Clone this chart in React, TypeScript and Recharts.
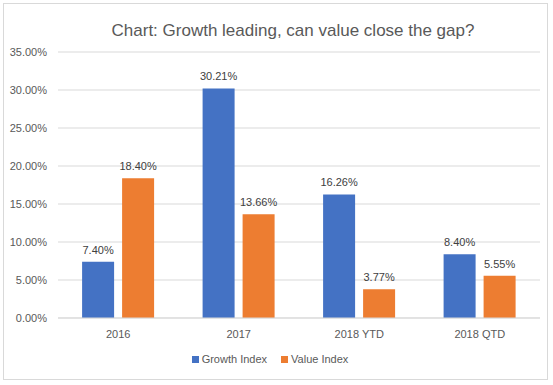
import { BarChart, Bar, XAxis, YAxis, CartesianGrid, Legend, LabelList } from "recharts";

const categories = ["2016", "2017", "2018 YTD", "2018 QTD"];
const growthIndex = [0.074, 0.3021, 0.1626, 0.084];
const valueIndex = [0.184, 0.1366, 0.0377, 0.0555];
const yTicks = [0, 0.05, 0.1, 0.15, 0.2, 0.25, 0.3, 0.35];

const BLUE = "#4472C4";
const ORANGE = "#ED7D31";
const FONT = "'Liberation Sans', Arial, sans-serif";

const data = categories.map((name, i) => ({
  name,
  growth: growthIndex[i],
  value: valueIndex[i],
}));

const pct = (v: number) => `${(v * 100).toFixed(2)}%`;

function LegendContent() {
  const items = [
    { label: "Growth Index", color: BLUE },
    { label: "Value Index", color: ORANGE },
  ];
  return (
    <div
      style={{
        height: 37,
        boxSizing: "border-box",
        paddingTop: 4,
        display: "flex",
        justifyContent: "center",
        gap: 14,
        fontFamily: FONT,
        fontSize: 11,
        color: "#595959",
      }}
    >
      {items.map((it) => (
        <div key={it.label} style={{ display: "flex", alignItems: "center", gap: 3, height: 14 }}>
          <span style={{ width: 7, height: 7, background: it.color, display: "inline-block" }} />
          <span>{it.label}</span>
        </div>
      ))}
    </div>
  );
}

export default function App() {
  return (
    <div style={{ position: "absolute", left: 0, top: 0, width: 553, height: 385, background: "#fff" }}>
      <div
        style={{
          position: "absolute",
          left: 3,
          top: 3,
          width: 543,
          height: 375,
          border: "1px solid #d9d9d9",
        }}
      />
      <div
        style={{
          position: "absolute",
          left: 0,
          width: 586,
          top: 21,
          textAlign: "center",
          fontFamily: FONT,
          fontSize: 17,
          color: "#595959",
        }}
      >
        Chart: Growth leading, can value close the gap?
      </div>
      <div style={{ position: "absolute", left: 0, top: 0 }}>
        <BarChart
          width={553}
          height={385}
          data={data}
          margin={{ top: 52, right: 13, left: 0, bottom: 0 }}
          barGap={8}
          barCategoryGap="20%"
        >
          <CartesianGrid vertical={false} stroke="#d9d9d9" />
          <XAxis
            dataKey="name"
            height={30}
            axisLine={{ stroke: "#d9d9d9" }}
            tickLine={false}
            tick={{ fill: "#595959", fontSize: 11, fontFamily: FONT }}
            tickMargin={6}
          />
          <YAxis
            width={58}
            domain={[0, 0.35]}
            ticks={yTicks}
            tickFormatter={pct}
            axisLine={false}
            tickLine={false}
            tickMargin={5}
            tick={{ fill: "#595959", fontSize: 11, fontFamily: FONT }}
          />
          <Legend verticalAlign="bottom" content={() => <LegendContent />} />
          <Bar dataKey="growth" name="Growth Index" fill={BLUE} isAnimationActive={false}>
            <LabelList dataKey="growth" position="top" offset={8} formatter={(v: number) => pct(v)} fill="#404040" fontSize={11} fontFamily={FONT} />
          </Bar>
          <Bar dataKey="value" name="Value Index" fill={ORANGE} isAnimationActive={false}>
            <LabelList dataKey="value" position="top" offset={8} formatter={(v: number) => pct(v)} fill="#404040" fontSize={11} fontFamily={FONT} />
          </Bar>
        </BarChart>
      </div>
    </div>
  );
}
